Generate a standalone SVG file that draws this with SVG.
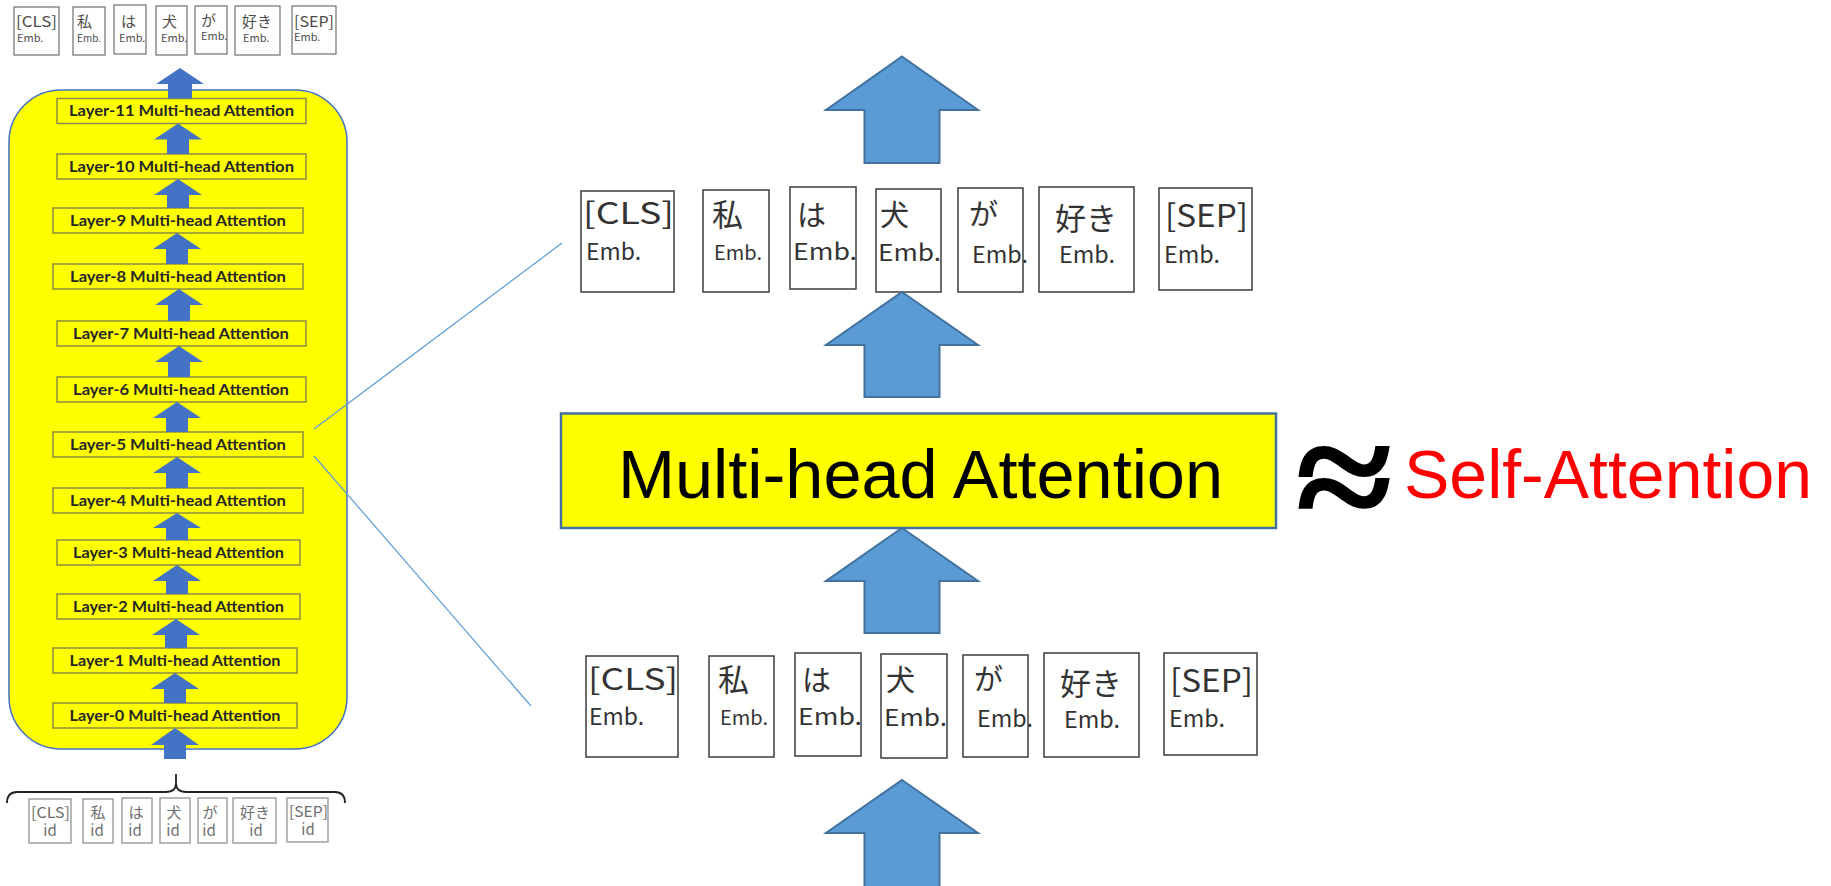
<svg xmlns="http://www.w3.org/2000/svg" width="1831" height="886" viewBox="0 0 1831 886">
  <defs>
    <style>
      .bg { fill: #ffffff; }
      .stack { fill: #FFFF00; stroke: #4472C4; stroke-width: 1.5; }
      .layer { fill: #FFFF00; stroke: #8C8C46; stroke-width: 1.5; }
      .layer-t { font-family: "Lato", "Open Sans", sans-serif; font-weight: 700; font-size: 15px; fill: #262626; text-anchor: middle; }
      .sarrow { fill: #4472C4; }
      .barrow { fill: #5B9BD5; stroke: #41719C; stroke-width: 2; stroke-linejoin: miter; }
      .tok-s { fill: #ffffff; stroke: #7a7a7a; stroke-width: 1.3; }
      .tok-s-t { font-family: "Noto Sans CJK JP", "Noto Sans", sans-serif; fill: #4d4d4d; }
      .tok-id { fill: #ffffff; stroke: #9a9a9a; stroke-width: 1.4; }
      .tok-id-t { font-family: "Noto Sans CJK JP", "Noto Sans", sans-serif; fill: #6e6e6e; font-size: 15px; }
      .tok { fill: #ffffff; stroke: #3c3c3c; stroke-width: 1.5; }
      .tok-t { font-family: "Noto Sans CJK JP", "Noto Sans", sans-serif; fill: #333333; }
      .mha { fill: #FFFF00; stroke: #41719C; stroke-width: 2.5; }
      .big-t { font-family: "Liberation Sans", "Noto Sans", sans-serif; font-size: 68px; }
      .zoomline { fill: none; stroke: #5B9BD5; stroke-width: 1.2; }
      .brace { fill: none; stroke: #222222; stroke-width: 1.8; }
    </style>
  </defs>

  <rect class="bg" x="0" y="0" width="1831" height="886"/>

  <!-- ===== Left: 12-layer encoder stack ===== -->
  <g id="encoder-stack">
    <rect class="stack" x="9" y="90" width="338" height="659" rx="52" ry="52"/>
  </g>

  <g id="layer-11"><rect class="layer" x="57" y="98.5" width="249" height="25"/><text class="layer-t" x="181.5" y="116" textLength="225" lengthAdjust="spacingAndGlyphs">Layer-11 Multi-head Attention</text></g>
  <g id="layer-10"><rect class="layer" x="57" y="154" width="249" height="25"/><text class="layer-t" x="181.5" y="171.5" textLength="225" lengthAdjust="spacingAndGlyphs">Layer-10 Multi-head Attention</text></g>
  <g id="layer-9"><rect class="layer" x="53" y="208" width="250" height="25"/><text class="layer-t" x="178" y="225.5" textLength="216" lengthAdjust="spacingAndGlyphs">Layer-9 Multi-head Attention</text></g>
  <g id="layer-8"><rect class="layer" x="53" y="264" width="250" height="25"/><text class="layer-t" x="178" y="281.5" textLength="216" lengthAdjust="spacingAndGlyphs">Layer-8 Multi-head Attention</text></g>
  <g id="layer-7"><rect class="layer" x="57" y="321" width="249" height="25"/><text class="layer-t" x="181" y="338.5" textLength="216" lengthAdjust="spacingAndGlyphs">Layer-7 Multi-head Attention</text></g>
  <g id="layer-6"><rect class="layer" x="57" y="377" width="249" height="25"/><text class="layer-t" x="181" y="394.5" textLength="216" lengthAdjust="spacingAndGlyphs">Layer-6 Multi-head Attention</text></g>
  <g id="layer-5"><rect class="layer" x="53" y="432" width="250" height="25"/><text class="layer-t" x="178" y="449.5" textLength="216" lengthAdjust="spacingAndGlyphs">Layer-5 Multi-head Attention</text></g>
  <g id="layer-4"><rect class="layer" x="53" y="488" width="250" height="25"/><text class="layer-t" x="178" y="505.5" textLength="216" lengthAdjust="spacingAndGlyphs">Layer-4 Multi-head Attention</text></g>
  <g id="layer-3"><rect class="layer" x="57" y="540" width="243" height="25"/><text class="layer-t" x="178.5" y="557.5" textLength="211" lengthAdjust="spacingAndGlyphs">Layer-3 Multi-head Attention</text></g>
  <g id="layer-2"><rect class="layer" x="57" y="594" width="243" height="25"/><text class="layer-t" x="178.5" y="611.5" textLength="211" lengthAdjust="spacingAndGlyphs">Layer-2 Multi-head Attention</text></g>
  <g id="layer-1"><rect class="layer" x="53" y="648" width="244" height="25"/><text class="layer-t" x="175" y="665.5" textLength="211" lengthAdjust="spacingAndGlyphs">Layer-1 Multi-head Attention</text></g>
  <g id="layer-0"><rect class="layer" x="53" y="703" width="244" height="25"/><text class="layer-t" x="175" y="720.5" textLength="211" lengthAdjust="spacingAndGlyphs">Layer-0 Multi-head Attention</text></g>

  <!-- small output embeddings above the stack -->
  <g id="left-out-cls"><rect class="tok-s" x="14" y="7" width="45" height="48"/><text class="tok-s-t" x="16" y="27" font-size="15" textLength="41" lengthAdjust="spacingAndGlyphs">[CLS]</text><text class="tok-s-t" x="17" y="42" font-size="11">Emb.</text></g>
  <g id="left-out-watashi"><rect class="tok-s" x="73" y="7" width="32" height="48"/><text class="tok-s-t" x="77" y="27" font-size="15">私</text><text class="tok-s-t" x="77" y="42" font-size="10">Emb.</text></g>
  <g id="left-out-wa"><rect class="tok-s" x="114" y="5" width="32" height="49"/><text class="tok-s-t" x="121" y="27" font-size="15">は</text><text class="tok-s-t" x="119" y="42" font-size="11">Emb.</text></g>
  <g id="left-out-inu"><rect class="tok-s" x="156" y="6" width="31" height="49"/><text class="tok-s-t" x="162" y="27" font-size="15">犬</text><text class="tok-s-t" x="161" y="42" font-size="11">Emb.</text></g>
  <g id="left-out-ga"><rect class="tok-s" x="195" y="6" width="32" height="48"/><text class="tok-s-t" x="201" y="26" font-size="15">が</text><text class="tok-s-t" x="201" y="40" font-size="11">Emb.</text></g>
  <g id="left-out-suki"><rect class="tok-s" x="235" y="6" width="45" height="49"/><text class="tok-s-t" x="242" y="27" font-size="15">好き</text><text class="tok-s-t" x="243" y="42" font-size="11">Emb.</text></g>
  <g id="left-out-sep"><rect class="tok-s" x="292" y="6" width="44" height="48"/><text class="tok-s-t" x="294" y="27" font-size="15" textLength="40" lengthAdjust="spacingAndGlyphs">[SEP]</text><text class="tok-s-t" x="294" y="41" font-size="11">Emb.</text></g>

  <!-- token ids fed into the stack -->
  <g id="id-cls"><rect class="tok-id" x="29" y="799" width="42" height="44"/><text class="tok-id-t" x="31" y="818" textLength="39" lengthAdjust="spacingAndGlyphs">[CLS]</text><text class="tok-id-t" x="50" y="836" text-anchor="middle">id</text></g>
  <g id="id-watashi"><rect class="tok-id" x="83" y="799" width="30" height="44"/><text class="tok-id-t" x="98" y="818" text-anchor="middle">私</text><text class="tok-id-t" x="97" y="836" text-anchor="middle">id</text></g>
  <g id="id-wa"><rect class="tok-id" x="122" y="798" width="30" height="45"/><text class="tok-id-t" x="136" y="818" text-anchor="middle">は</text><text class="tok-id-t" x="135" y="836" text-anchor="middle">id</text></g>
  <g id="id-inu"><rect class="tok-id" x="160" y="798" width="30" height="45"/><text class="tok-id-t" x="174" y="818" text-anchor="middle">犬</text><text class="tok-id-t" x="173" y="836" text-anchor="middle">id</text></g>
  <g id="id-ga"><rect class="tok-id" x="198" y="798" width="29" height="45"/><text class="tok-id-t" x="210" y="818" text-anchor="middle">が</text><text class="tok-id-t" x="209" y="836" text-anchor="middle">id</text></g>
  <g id="id-suki"><rect class="tok-id" x="233" y="798" width="43" height="45"/><text class="tok-id-t" x="255" y="818" text-anchor="middle">好き</text><text class="tok-id-t" x="256" y="836" text-anchor="middle">id</text></g>
  <g id="id-sep"><rect class="tok-id" x="287" y="798" width="41" height="44"/><text class="tok-id-t" x="289" y="817" textLength="39" lengthAdjust="spacingAndGlyphs">[SEP]</text><text class="tok-id-t" x="308" y="835" text-anchor="middle">id</text></g>

  <!-- ===== Right: one layer in detail ===== -->
  <g id="out-cls"><rect class="tok" x="581" y="191" width="93" height="101"/><text class="tok-t" x="583" y="224" font-size="30" textLength="91" lengthAdjust="spacingAndGlyphs">[CLS]</text><text class="tok-t" x="586" y="260" font-size="23" textLength="55" lengthAdjust="spacingAndGlyphs">Emb.</text></g>
  <g id="out-watashi"><rect class="tok" x="703" y="190" width="66" height="102"/><text class="tok-t" x="712" y="226" font-size="31">私</text><text class="tok-t" x="714" y="260" font-size="20" textLength="48" lengthAdjust="spacingAndGlyphs">Emb.</text></g>
  <g id="out-wa"><rect class="tok" x="790" y="187" width="66" height="102"/><text class="tok-t" x="797" y="226" font-size="29">は</text><text class="tok-t" x="793" y="260" font-size="23" textLength="64" lengthAdjust="spacingAndGlyphs">Emb.</text></g>
  <g id="out-inu"><rect class="tok" x="876" y="189" width="65" height="103"/><text class="tok-t" x="880" y="226" font-size="29">犬</text><text class="tok-t" x="878" y="261" font-size="23" textLength="63" lengthAdjust="spacingAndGlyphs">Emb.</text></g>
  <g id="out-ga"><rect class="tok" x="958" y="188" width="65" height="104"/><text class="tok-t" x="969" y="225" font-size="29">が</text><text class="tok-t" x="972" y="263" font-size="23" textLength="56" lengthAdjust="spacingAndGlyphs">Emb.</text></g>
  <g id="out-suki"><rect class="tok" x="1039" y="187" width="95" height="105"/><text class="tok-t" x="1055" y="230" font-size="31">好き</text><text class="tok-t" x="1059" y="263" font-size="23" textLength="56" lengthAdjust="spacingAndGlyphs">Emb.</text></g>
  <g id="out-sep"><rect class="tok" x="1159" y="188" width="93" height="102"/><text class="tok-t" x="1165" y="227" font-size="31" textLength="83" lengthAdjust="spacingAndGlyphs">[SEP]</text><text class="tok-t" x="1164" y="263" font-size="23" textLength="56" lengthAdjust="spacingAndGlyphs">Emb.</text></g>

  <g id="multi-head-attention">
    <rect class="mha" x="561" y="413.5" width="715" height="114.5"/>
    <text class="big-t" x="618" y="498" fill="#000000" textLength="605" lengthAdjust="spacingAndGlyphs">Multi-head Attention</text>
  </g>

  <g id="self-attention">
    <text x="0" y="0" transform="translate(1344,530) scale(1.6,1.42)" font-family="Liberation Serif, DejaVu Serif, serif" font-weight="700" font-size="110" text-anchor="middle" fill="#000000" stroke="#000000" stroke-width="1.2">≈</text>
    <text class="big-t" x="1404" y="498" fill="#FF0000" textLength="408" lengthAdjust="spacingAndGlyphs">Self-Attention</text>
  </g>

  <g id="in-cls"><rect class="tok" x="586" y="656" width="92" height="101"/><text class="tok-t" x="588" y="690" font-size="30" textLength="90" lengthAdjust="spacingAndGlyphs">[CLS]</text><text class="tok-t" x="589" y="725" font-size="23" textLength="55" lengthAdjust="spacingAndGlyphs">Emb.</text></g>
  <g id="in-watashi"><rect class="tok" x="709" y="656" width="65" height="101"/><text class="tok-t" x="718" y="691" font-size="31">私</text><text class="tok-t" x="720" y="725" font-size="20" textLength="48" lengthAdjust="spacingAndGlyphs">Emb.</text></g>
  <g id="in-wa"><rect class="tok" x="795" y="653" width="66" height="103"/><text class="tok-t" x="802" y="691" font-size="29">は</text><text class="tok-t" x="798" y="725" font-size="23" textLength="64" lengthAdjust="spacingAndGlyphs">Emb.</text></g>
  <g id="in-inu"><rect class="tok" x="881" y="654" width="66" height="104"/><text class="tok-t" x="886" y="691" font-size="29">犬</text><text class="tok-t" x="884" y="726" font-size="23" textLength="63" lengthAdjust="spacingAndGlyphs">Emb.</text></g>
  <g id="in-ga"><rect class="tok" x="963" y="655" width="65" height="102"/><text class="tok-t" x="974" y="690" font-size="29">が</text><text class="tok-t" x="977" y="727" font-size="23" textLength="56" lengthAdjust="spacingAndGlyphs">Emb.</text></g>
  <g id="in-suki"><rect class="tok" x="1044" y="653" width="95" height="104"/><text class="tok-t" x="1060" y="695" font-size="31">好き</text><text class="tok-t" x="1064" y="728" font-size="23" textLength="56" lengthAdjust="spacingAndGlyphs">Emb.</text></g>
  <g id="in-sep"><rect class="tok" x="1164" y="653" width="93" height="102"/><text class="tok-t" x="1170" y="692" font-size="31" textLength="83" lengthAdjust="spacingAndGlyphs">[SEP]</text><text class="tok-t" x="1169" y="727" font-size="23" textLength="56" lengthAdjust="spacingAndGlyphs">Emb.</text></g>

  <!-- ===== Connectors ===== -->
  <g id="connectors">
    <!-- flow arrows inside the stack -->
    <polygon class="sarrow" points="180,68 204,84 192,84 192,98.5 168,98.5 168,84 156,84"/>
    <polygon class="sarrow" points="178,123.5 202,139.5 189,139.5 189,154 167,154 167,139.5 154,139.5"/>
    <polygon class="sarrow" points="178,179 202,195 189,195 189,208 167,208 167,195 154,195"/>
    <polygon class="sarrow" points="177,233 201,249 188,249 188,264 166,264 166,249 153,249"/>
    <polygon class="sarrow" points="179,289 203,305 190,305 190,321 168,321 168,305 155,305"/>
    <polygon class="sarrow" points="179,346 203,362 190,362 190,377 168,377 168,362 155,362"/>
    <polygon class="sarrow" points="177,402 201,418 188,418 188,432 166,432 166,418 153,418"/>
    <polygon class="sarrow" points="177,457 201,473 188,473 188,488 166,488 166,473 153,473"/>
    <polygon class="sarrow" points="177,513 201,528 188,528 188,540 166,540 166,528 153,528"/>
    <polygon class="sarrow" points="177,565 201,581 188,581 188,594 166,594 166,581 153,581"/>
    <polygon class="sarrow" points="176,619 200,635 187,635 187,648 165,648 165,635 152,635"/>
    <polygon class="sarrow" points="175,673 199,689 186,689 186,703 164,703 164,689 151,689"/>
    <polygon class="sarrow" points="175,728 199,745 186,745 186,759 164,759 164,745 151,745"/>

    <!-- brace gathering the token ids -->
    <path class="brace" d="M7,803 Q7,792 17,792 L166,792 Q176,792 176,783 L176,774 M176,783 Q176,792 186,792 L335,792 Q345,792 345,803"/>

    <!-- zoom lines from Layer-5 to the detailed view -->
    <line class="zoomline" x1="314" y1="429" x2="562" y2="243"/>
    <line class="zoomline" x1="314" y1="456" x2="531" y2="706"/>

    <!-- flow arrows in the detailed view -->
    <polygon class="barrow" points="902,56.5 978,110 939.5,110 939.5,163 864.5,163 864.5,110 826,110"/>
    <polygon class="barrow" points="902,292 978,345 939.5,345 939.5,397 864.5,397 864.5,345 826,345"/>
    <polygon class="barrow" points="902,528 978,581 939.5,581 939.5,633 864.5,633 864.5,581 826,581"/>
    <polygon class="barrow" points="902,780 978,833 939.5,833 939.5,890 864.5,890 864.5,833 826,833"/>
  </g>
</svg>
